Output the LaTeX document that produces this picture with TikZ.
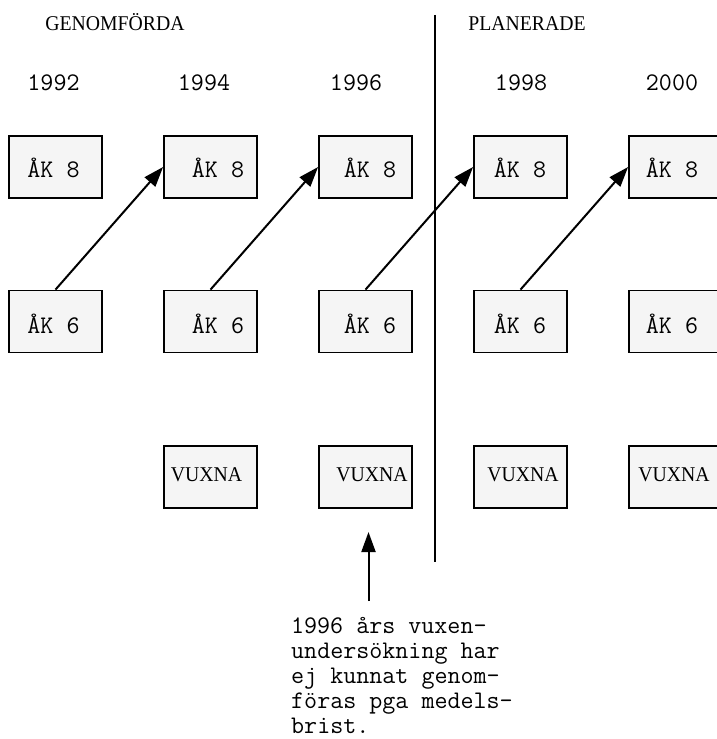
\documentclass[tikz,border=0pt]{standalone}
\usepackage{fontspec}
\newfontfamily\capsfont{Liberation Serif}[FakeStretch=0.94]
\usetikzlibrary{arrows.meta}
\definecolor{boxfill}{HTML}{F5F5F5}
\tikzset{
  cell/.style={draw=black, line width=1.8bp, fill=boxfill,
    minimum width=93bp, minimum height=62bp, inner sep=0pt},
  mono/.style={font=\fontsize{25.3bp}{25.5bp}\selectfont\ttfamily, inner sep=0pt, anchor=base},
  caps/.style={font=\fontsize{21bp}{23bp}\selectfont\capsfont, inner sep=0pt, anchor=base},
  link/.style={line width=2bp, -{Triangle[length=20bp,width=14bp]}},
  divider/.style={line width=1.8bp}
}
\begin{document}
\begin{tikzpicture}[x=1bp,y=-1bp]
  \useasboundingbox (0,0) rectangle (717,739);
  \clip (0,0) rectangle (717,739);

  % headings
  \node[caps] (hdone) at (115,30.5) {GENOMFÖRDA};
  \node[caps] (hplan) at (527,30.5) {PLANERADE};

  % years
  \node[mono] (y92) at (53.5,90) {1992};
  \node[mono] (y94) at (204,90) {1994};
  \node[mono] (y96) at (356,90) {1996};
  \node[mono] (y98) at (521,90) {1998};
  \node[mono] (y00) at (672,90) {2000};

  % grade 8 boxes
  \node[cell] (e1) at (55.5,167) {};
  \node[cell] (e2) at (210.5,167) {};
  \node[cell] (e3) at (365.5,167) {};
  \node[cell] (e4) at (520.5,167) {};
  \node[cell] (e5) at (675.5,167) {};
  % grade 6 boxes
  \node[cell] (s1) at (55.5,321.5) {};
  \node[cell] (s2) at (210.5,321.5) {};
  \node[cell] (s3) at (365.5,321.5) {};
  \node[cell] (s4) at (520.5,321.5) {};
  \node[cell] (s5) at (675.5,321.5) {};
  % adult boxes
  \node[cell] (v2) at (210.5,477) {};
  \node[cell] (v3) at (365.5,477) {};
  \node[cell] (v4) at (520.5,477) {};
  \node[cell] (v5) at (675.5,477) {};

  % box labels
  \node[mono] (te1) at (53.5,177.3) {ÅK 8};
  \node[mono] (te2) at (218,177.3) {ÅK 8};
  \node[mono] (te3) at (370,177.3) {ÅK 8};
  \node[mono] (te4) at (520,177.3) {ÅK 8};
  \node[mono] (te5) at (672,177.3) {ÅK 8};
  \node[mono] (ts1) at (53.5,333.3) {ÅK 6};
  \node[mono] (ts2) at (218,333.3) {ÅK 6};
  \node[mono] (ts3) at (370,333.3) {ÅK 6};
  \node[mono] (ts4) at (520,333.3) {ÅK 6};
  \node[mono] (ts5) at (672,333.3) {ÅK 6};
  \node[caps] (tv2) at (206.5,481) {VUXNA};
  \node[caps] (tv3) at (372,481) {VUXNA};
  \node[caps] (tv4) at (523,481) {VUXNA};
  \node[caps] (tv5) at (674,481) {VUXNA};

  % cohort arrows: grade 6 to grade 8 two years later
  \draw[link] (s1.north) -- (e2.west);
  \draw[link] (s2.north) -- (e3.west);
  \draw[link] (s3.north) -- (e4.west);
  \draw[link] (s4.north) -- (e5.west);

  % divider between completed and planned surveys
  \coordinate (dtop) at (434.7,15);
  \coordinate (dbot) at (434.7,562);
  \draw[divider] (dtop) -- (dbot);

  % note about the 1996 adult survey
  \coordinate (ntail) at (368.5,601);
  \coordinate (nhead) at (368.5,532);
  \draw[link] (ntail) -- (nhead);
  \node[font=\fontsize{25.3bp}{25bp}\selectfont\ttfamily, inner sep=0pt,
        align=left, anchor=base west] (note) at (291,733)
    {1996 års vuxen-\\undersökning har\\ej kunnat genom-\\föras pga medels-\\brist.};
\end{tikzpicture}
\end{document}
